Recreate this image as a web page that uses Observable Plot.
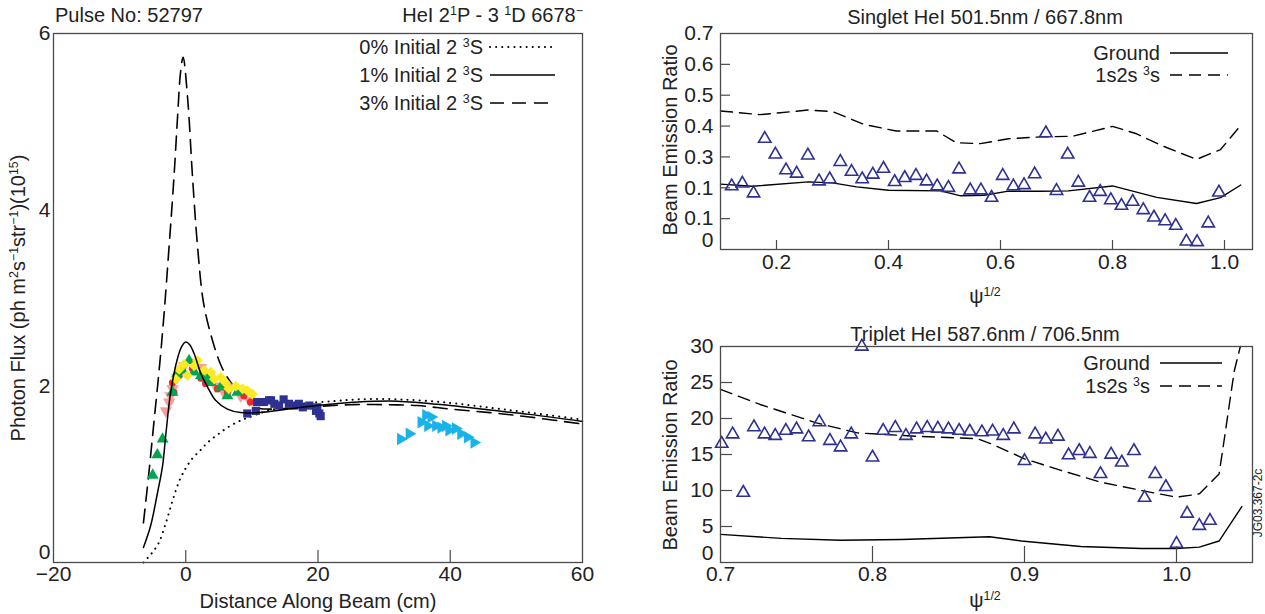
<!DOCTYPE html>
<html><head><meta charset="utf-8">
<script src="https://cdn.jsdelivr.net/npm/d3@7"></script>
<script src="https://cdn.jsdelivr.net/npm/@observablehq/plot@0.6"></script>
<style>
body{margin:0;background:#fff;}
#root{position:relative;width:1265px;height:614px;overflow:hidden;font-family:"Liberation Sans",Arial,sans-serif;background:#fff;}
#root svg{position:absolute;}
</style></head><body><div id="root"></div>
<script>
// ---------- LEFT PANEL DATA (Distance Along Beam, Photon Flux 1e15) ----------
const distTicks = [-20, 0, 20, 40, 60];
const fluxTicks = [0, 2, 4, 6];
// model curves
const curve0X = [-6.4,-5.2,-4.1,-3.0,-2.0,-1.0,0,1.0,2.3,3.3,4.8,6.3,8,9.3,12.4,17.4,22.4,26,32.5,40,46.6,52,60];
const curve0Y = [0,0.1,0.22,0.45,0.7,0.92,1.07,1.18,1.28,1.36,1.45,1.53,1.6,1.64,1.72,1.8,1.83,1.85,1.85,1.81,1.75,1.7,1.62];
const curve1X = [-6.4,-5.3,-4.3,-3.5,-3.0,-2.3,-1.3,-0.6,0,0.6,1.26,2.3,3.3,4.5,6.3,8.3,10.8,14.4,19.9,26,32,40,46,52,60];
const curve1Y = [0.17,0.42,0.78,1.1,1.46,1.92,2.3,2.45,2.5,2.47,2.37,2.14,1.99,1.84,1.74,1.70,1.70,1.73,1.78,1.82,1.83,1.78,1.73,1.68,1.60];
const curve3X = [-6.4,-5.6,-4.8,-4.0,-3.3,-2.6,-1.8,-1.2,-0.8,-0.4,0.3,1.0,1.8,2.7,4.0,5.3,6.3,7.8,9.3,10.6,12.5,15.4,20,25,30,35,40,46,52,60];
const curve3Y = [0.45,1.0,1.6,2.2,2.8,3.5,4.35,5.1,5.55,5.73,5.25,4.4,3.57,2.94,2.53,2.24,2.1,1.95,1.84,1.76,1.74,1.75,1.77,1.79,1.79,1.78,1.74,1.70,1.65,1.57];
// measured points
const greenX = [-5.0,-4.3,-3.5,-2.0,-1.3,-0.5,0.5,1.3,2.3,3.3,3.8,5.3,6.3,7.8];
const greenY = [0.99,1.22,1.40,1.93,2.14,2.18,2.29,2.16,2.12,2.08,2.04,1.99,1.89,1.93];
const salmonX = [-3.0,-2.5,-2.3,-2.0,-1.3,-0.25,1.26,2.3,3.3,4.5,5.6,6.8,8.3,9.6];
const salmonY = [1.72,1.82,1.89,1.97,2.10,2.23,2.27,2.21,2.10,2.0,1.95,1.99,1.89,1.84];
const redX = [-2.0,-1.8,-1.0,1.0,2.3,3.0,4.8,6.3,8.8,9.8];
const redY = [2.04,1.93,2.12,2.20,2.09,2.03,1.97,1.93,1.89,1.82];
const yellowX = [-1.5,-1.0,-0.25,0.25,1.26,1.77,2.8,3.8,4.3,5.3,6.0,6.5,7.6,8.6,9.3,10.1];
const yellowY = [2.08,2.19,2.25,2.12,2.23,2.29,2.18,2.16,2.08,2.10,2.04,1.97,2.0,1.97,1.95,1.91];
const navyX = [9.3,10.6,10.8,11.8,12.6,12.9,13.4,14.1,14.8,15.6,16.4,17.1,17.7,18.7,19.7,19.9,20.2,20.4];
const navyY = [1.69,1.72,1.82,1.82,1.84,1.84,1.80,1.78,1.85,1.80,1.78,1.80,1.76,1.78,1.72,1.76,1.69,1.66];
const cyanX = [32.5,33.8,35.6,36.3,36.6,37.1,37.8,38.6,39.3,39.8,40.8,41.6,42.6,43.6];
const cyanY = [1.40,1.46,1.59,1.67,1.55,1.65,1.55,1.53,1.55,1.50,1.52,1.46,1.42,1.36];

// ---------- TOP RIGHT (Singlet ratio) ----------
const singletTicks = [0, 0.1, 0.2, 0.3, 0.4, 0.5, 0.6, 0.7];
const singletTickLabels = ["0", "0.1", "0.1", "0.3", "0.4", "0.5", "0.6", "0.7"];
const psiTicksTop = [0.2, 0.4, 0.6, 0.8, 1.0];
const singletPsi = [0.12,0.139,0.159,0.179,0.198,0.217,0.236,0.256,0.276,0.295,0.314,0.334,0.353,0.372,0.391,0.411,0.429,0.449,0.468,0.487,0.507,0.526,0.546,0.565,0.584,0.604,0.623,0.642,0.661,0.681,0.7,0.72,0.739,0.759,0.778,0.797,0.816,0.836,0.855,0.874,0.894,0.913,0.932,0.951,0.971,0.99];
const singletRatio = [0.205,0.214,0.182,0.359,0.308,0.257,0.246,0.305,0.221,0.228,0.284,0.252,0.228,0.243,0.262,0.219,0.232,0.239,0.221,0.205,0.2,0.26,0.192,0.192,0.168,0.239,0.205,0.209,0.244,0.377,0.19,0.308,0.217,0.168,0.187,0.16,0.142,0.155,0.128,0.104,0.092,0.077,0.026,0.024,0.085,0.185];
const singletGroundX = [0.1,0.157,0.257,0.3,0.343,0.4,0.493,0.529,0.571,0.614,0.671,0.721,0.8,0.879,0.95,0.993,1.029];
const singletGroundY = [0.212,0.205,0.219,0.216,0.203,0.192,0.19,0.174,0.176,0.189,0.189,0.19,0.206,0.169,0.149,0.168,0.209];
const singletMetaX = [0.1,0.171,0.257,0.3,0.357,0.414,0.486,0.521,0.564,0.614,0.671,0.729,0.8,0.843,0.886,0.95,0.993,1.029];
const singletMetaY = [0.449,0.437,0.452,0.447,0.405,0.384,0.384,0.346,0.343,0.359,0.365,0.367,0.399,0.375,0.338,0.292,0.324,0.402];

// ---------- BOTTOM RIGHT (Triplet ratio) ----------
const tripletTicks = [0, 5, 10, 15, 20, 25, 30];
const psiTicksBottom = [0.7, 0.8, 0.9, 1.0];
const tripletPsi = [0.7008,0.708,0.715,0.722,0.729,0.736,0.743,0.750,0.758,0.765,0.772,0.779,0.786,0.793,0.8,0.807,0.815,0.822,0.829,0.836,0.843,0.85,0.857,0.864,0.872,0.879,0.886,0.893,0.9,0.907,0.914,0.922,0.929,0.936,0.943,0.95,0.957,0.964,0.972,0.979,0.986,0.993,1.0,1.007,1.015,1.022];
const tripletRatio = [16.5,17.8,9.7,18.8,17.8,17.6,18.3,18.5,17.4,19.5,16.9,16.0,17.8,30.0,14.6,18.3,18.7,17.6,18.5,18.7,18.6,18.5,18.3,18.2,18.1,18.2,17.6,18.5,14.1,17.8,17.1,17.5,14.9,15.5,15.1,12.3,15.0,13.9,15.5,9.0,12.3,10.5,2.6,6.8,5.1,5.8];
const tripletGroundX = [0.7,0.74,0.779,0.819,0.877,0.898,0.937,0.977,1.0,1.015,1.028,1.043];
const tripletGroundY = [3.9,3.35,3.1,3.2,3.58,2.98,2.23,1.95,1.95,2.14,2.98,7.77];
const tripletMetaX = [0.7,0.726,0.763,0.79,0.832,0.869,0.879,0.9,0.924,0.95,0.977,1.0,1.015,1.028,1.031,1.038,1.042];
const tripletMetaY = [24.05,21.95,19.4,18.0,17.5,17.2,16.4,14.4,12.8,11.16,10.0,9.07,9.53,12.28,16.5,26.6,30];

// ---------- helpers ----------
const zip = (xs, ys) => xs.map((x, i) => ({x, y: ys[i]}));
const sqrt3 = Math.sqrt(3);
const triDown = {draw(ctx, size) {const y = -Math.sqrt(size / (sqrt3 * 3)); ctx.moveTo(0, -2 * y); ctx.lineTo(sqrt3 * y, y); ctx.lineTo(-sqrt3 * y, y); ctx.closePath();}};
const triRight = {draw(ctx, size) {const y = -Math.sqrt(size / (sqrt3 * 3)); ctx.moveTo(-2 * y, 0); ctx.lineTo(y, sqrt3 * y); ctx.lineTo(y, -sqrt3 * y); ctx.closePath();}};
const FONT = "Liberation Sans, Arial, sans-serif";
const TICKFS = 21;
const frameColor = "#4a4a4a";
const root = document.getElementById("root");

function place(svg, left, top) {
  svg.style.left = left + "px"; svg.style.top = top + "px"; svg.style.position = "absolute";
  root.appendChild(svg);
}

function axisMarks({xTicks, xTickMarks, xFmt, xTickLen, yTicks, yTickMarks, yLabels, yTickLen, zeroDy, xdy, ydx, innerW, innerH}) {
  const marks = [];
  marks.push(Plot.ruleX(xTickMarks, {x: d => d, insetTop: innerH - xTickLen, stroke: frameColor, strokeWidth: 1.2}));
  if (yTickMarks.length) marks.push(Plot.ruleY(yTickMarks, {y: d => d, insetRight: innerW - yTickLen, stroke: frameColor, strokeWidth: 1.2}));
  marks.push(Plot.text(xTicks, {x: d => d, frameAnchor: "bottom", dy: xdy, text: xFmt, fontSize: TICKFS, fill: "#222"}));
  const yl = (d) => yLabels[yTicks.indexOf(d)];
  marks.push(Plot.text(yTicks.filter(d => d !== 0), {y: d => d, frameAnchor: "left", textAnchor: "end", dx: ydx, text: yl, fontSize: TICKFS, fill: "#222"}));
  marks.push(Plot.text(yTicks.filter(d => d === 0), {y: d => d, frameAnchor: "left", textAnchor: "end", dx: ydx, dy: zeroDy, text: yl, fontSize: TICKFS, fill: "#222"}));
  return marks;
}

// ---------- LEFT PANEL ----------
{
  const W = 610, H = 614, mL = 53, mR = 28, mT = 33, mB = 52;
  const iw = W - mL - mR, ih = H - mT - mB;
  const fmt = d3.format("d");
  const svg = Plot.plot({
    width: W, height: H, marginLeft: mL, marginRight: mR, marginTop: mT, marginBottom: mB,
    x: {domain: [-20, 60], axis: null},
    y: {domain: [0, 6], axis: null},
    style: {fontFamily: FONT, background: "transparent", overflow: "visible"},
    marks: [
      Plot.line(zip(curve0X, curve0Y), {x: "x", y: "y", stroke: "#000", strokeWidth: 2, strokeDasharray: "0.1,6", strokeLinecap: "round", curve: "catmull-rom"}),
      Plot.line(zip(curve3X, curve3Y), {x: "x", y: "y", stroke: "#000", strokeWidth: 1.6, strokeDasharray: "14,8", curve: "catmull-rom"}),
      Plot.dot(zip(salmonX, salmonY), {x: "x", y: "y", symbol: triDown, r: 4.6, fill: "#f4a09a", stroke: "none"}),
      Plot.dot(zip(redX, redY), {x: "x", y: "y", symbol: "circle", r: 3.6, fill: "#ee2a2a", stroke: "none"}),
      Plot.dot(zip(greenX, greenY), {x: "x", y: "y", symbol: "triangle", r: 4.4, fill: "#00a651", stroke: "none"}),
      Plot.dot(zip(yellowX, yellowY), {x: "x", y: "y", symbol: "diamond2", r: 4.8, fill: "#fdea22", stroke: "none"}),
      Plot.dot(zip(navyX, navyY), {x: "x", y: "y", symbol: "square", r: 4.6, fill: "#2e3192", stroke: "none"}),
      Plot.dot(zip(cyanX, cyanY), {x: "x", y: "y", symbol: triRight, r: 4.6, fill: "#19b3ea", stroke: "none"}),
      Plot.line(zip(curve1X, curve1Y), {x: "x", y: "y", stroke: "#000", strokeWidth: 1.5, curve: "catmull-rom"}),
      Plot.frame({stroke: frameColor, strokeWidth: 1.3}),
      ...axisMarks({xTicks: distTicks, xTickMarks: distTicks.slice(1, -1), xFmt: fmt, xTickLen: 12,
        yTicks: fluxTicks, yTickMarks: [], yLabels: fluxTicks.map(fmt), yTickLen: 0, zeroDy: -10, xdy: 18, ydx: -3, innerW: iw, innerH: ih})
    ]
  });
  place(svg, 0, 0);
}

// ---------- TOP RIGHT PANEL ----------
{
  const W = 625, H = 300, mL = 80, mR = 13, mT = 33, mB = 51;
  const iw = W - mL - mR, ih = H - mT - mB;
  const svg = Plot.plot({
    width: W, height: H, marginLeft: mL, marginRight: mR, marginTop: mT, marginBottom: mB,
    x: {domain: [0.1, 1.05], axis: null},
    y: {domain: [0, 0.7], axis: null},
    style: {fontFamily: FONT, background: "transparent", overflow: "visible"},
    marks: [
      Plot.line(zip(singletMetaX, singletMetaY), {x: "x", y: "y", stroke: "#000", strokeWidth: 1.4, strokeDasharray: "12,7"}),
      Plot.line(zip(singletGroundX, singletGroundY), {x: "x", y: "y", stroke: "#000", strokeWidth: 1.4}),
      Plot.dot(zip(singletPsi, singletRatio), {x: "x", y: "y", symbol: "triangle", r: 4.6, fill: "none", stroke: "#2e3192", strokeWidth: 1.6}),
      Plot.frame({stroke: frameColor, strokeWidth: 1.3}),
      ...axisMarks({xTicks: psiTicksTop, xTickMarks: psiTicksTop, xFmt: d3.format(".1f"), xTickLen: 9,
        yTicks: singletTicks, yTickMarks: singletTicks.slice(1, -1), yLabels: singletTickLabels, yTickLen: 10, zeroDy: -9, xdy: 19, ydx: -7, innerW: iw, innerH: ih})
    ]
  });
  place(svg, 640, 0);
}

// ---------- BOTTOM RIGHT PANEL ----------
{
  const W = 625, H = 314, mL = 80, mR = 13, mT = 46, mB = 52;
  const iw = W - mL - mR, ih = H - mT - mB;
  const fmtY = d3.format("d");
  const svg = Plot.plot({
    width: W, height: H, marginLeft: mL, marginRight: mR, marginTop: mT, marginBottom: mB,
    x: {domain: [0.7, 1.05], axis: null},
    y: {domain: [0, 30], axis: null},
    style: {fontFamily: FONT, background: "transparent", overflow: "visible"},
    marks: [
      Plot.line(zip(tripletMetaX, tripletMetaY), {x: "x", y: "y", stroke: "#000", strokeWidth: 1.4, strokeDasharray: "12,7"}),
      Plot.line(zip(tripletGroundX, tripletGroundY), {x: "x", y: "y", stroke: "#000", strokeWidth: 1.4}),
      Plot.dot(zip(tripletPsi, tripletRatio), {x: "x", y: "y", symbol: "triangle", r: 4.6, fill: "none", stroke: "#2e3192", strokeWidth: 1.6}),
      Plot.frame({stroke: frameColor, strokeWidth: 1.3}),
      ...axisMarks({xTicks: psiTicksBottom, xTickMarks: psiTicksBottom.slice(1), xFmt: d3.format(".1f"), xTickLen: 16,
        yTicks: tripletTicks, yTickMarks: tripletTicks.slice(1, -1), yLabels: tripletTicks.map(fmtY), yTickLen: 12, zeroDy: -9, xdy: 18, ydx: -7, innerW: iw, innerH: ih})
    ]
  });
  place(svg, 640, 300);
}

// ---------- ANNOTATIONS (titles, labels, legends) ----------
{
  const ov = d3.create("svg").attr("width", 1265).attr("height", 614)
    .style("position", "absolute").style("left", "0px").style("top", "0px")
    .style("font-family", FONT).style("pointer-events", "none");
  function txt(x, y, parts, {anchor = "start", size = 20, rotate = 0, fill = "#222"} = {}) {
    const t = ov.append("text").attr("x", x).attr("y", y).attr("text-anchor", anchor)
      .attr("font-size", size).attr("fill", fill);
    if (rotate) t.attr("transform", `rotate(${rotate},${x},${y})`);
    for (const p of parts) {
      if (typeof p === "string") t.append("tspan").text(p);
      else t.append("tspan").attr("baseline-shift", "super").attr("font-size", size * 0.62).text(p.sup);
    }
    return t;
  }
  function sample(x1, x2, y, dash) {
    const l = ov.append("line").attr("x1", x1).attr("x2", x2).attr("y1", y).attr("y2", y)
      .attr("stroke", "#000").attr("stroke-width", dash === "dot" ? 2 : 1.5);
    if (dash === "dot") l.attr("stroke-dasharray", "0.1,6").attr("stroke-linecap", "round");
    else if (dash) l.attr("stroke-dasharray", dash);
  }
  // left panel header
  txt(55, 22, ["Pulse No: 52797"]);
  txt(583, 22, ["HeI 2", {sup: "1"}, "P - 3 ", {sup: "1"}, "D 6678", {sup: "−"}], {anchor: "end"});
  // left legend
  const legL = [["0", "dot"], ["1", null], ["3", "14,8"]];
  legL.forEach(([p, dash], i) => {
    const yc = 47 + i * 28;
    txt(483, yc + 7, [p + "% Initial 2 ", {sup: "3"}, "S"], {anchor: "end"});
    sample(490, 555, yc, dash);
  });
  // left axis labels
  txt(318, 608, ["Distance Along Beam (cm)"], {anchor: "middle"});
  txt(25, 298, ["Photon Flux (ph m", {sup: "2"}, "s", {sup: "−1"}, "str", {sup: "−1"}, ")(10", {sup: "15"}, ")"], {anchor: "middle", rotate: -90});
  // right top
  txt(985, 24, ["Singlet HeI 501.5nm / 667.8nm"], {anchor: "middle"});
  txt(1160, 60, ["Ground"], {anchor: "end"});
  sample(1170, 1228, 53, null);
  txt(1160, 82, ["1s2s ", {sup: "3"}, "s"], {anchor: "end"});
  sample(1170, 1228, 75, "12,7");
  txt(677, 140, ["Beam Emission Ratio"], {anchor: "middle", rotate: -90});
  txt(985, 303, ["ψ", {sup: "1/2"}], {anchor: "middle"});
  // right bottom
  txt(985, 341, ["Triplet HeI 587.6nm / 706.5nm"], {anchor: "middle"});
  txt(1150, 370, ["Ground"], {anchor: "end"});
  sample(1160, 1222, 363, null);
  txt(1150, 393, ["1s2s ", {sup: "3"}, "s"], {anchor: "end"});
  sample(1160, 1222, 386, "12,7");
  txt(677, 455, ["Beam Emission Ratio"], {anchor: "middle", rotate: -90});
  txt(985, 607, ["ψ", {sup: "1/2"}], {anchor: "middle"});
  // figure id
  txt(1262, 503, ["JG03.367-2c"], {anchor: "middle", size: 12, rotate: -90});
  root.appendChild(ov.node());
}
</script></body></html>
